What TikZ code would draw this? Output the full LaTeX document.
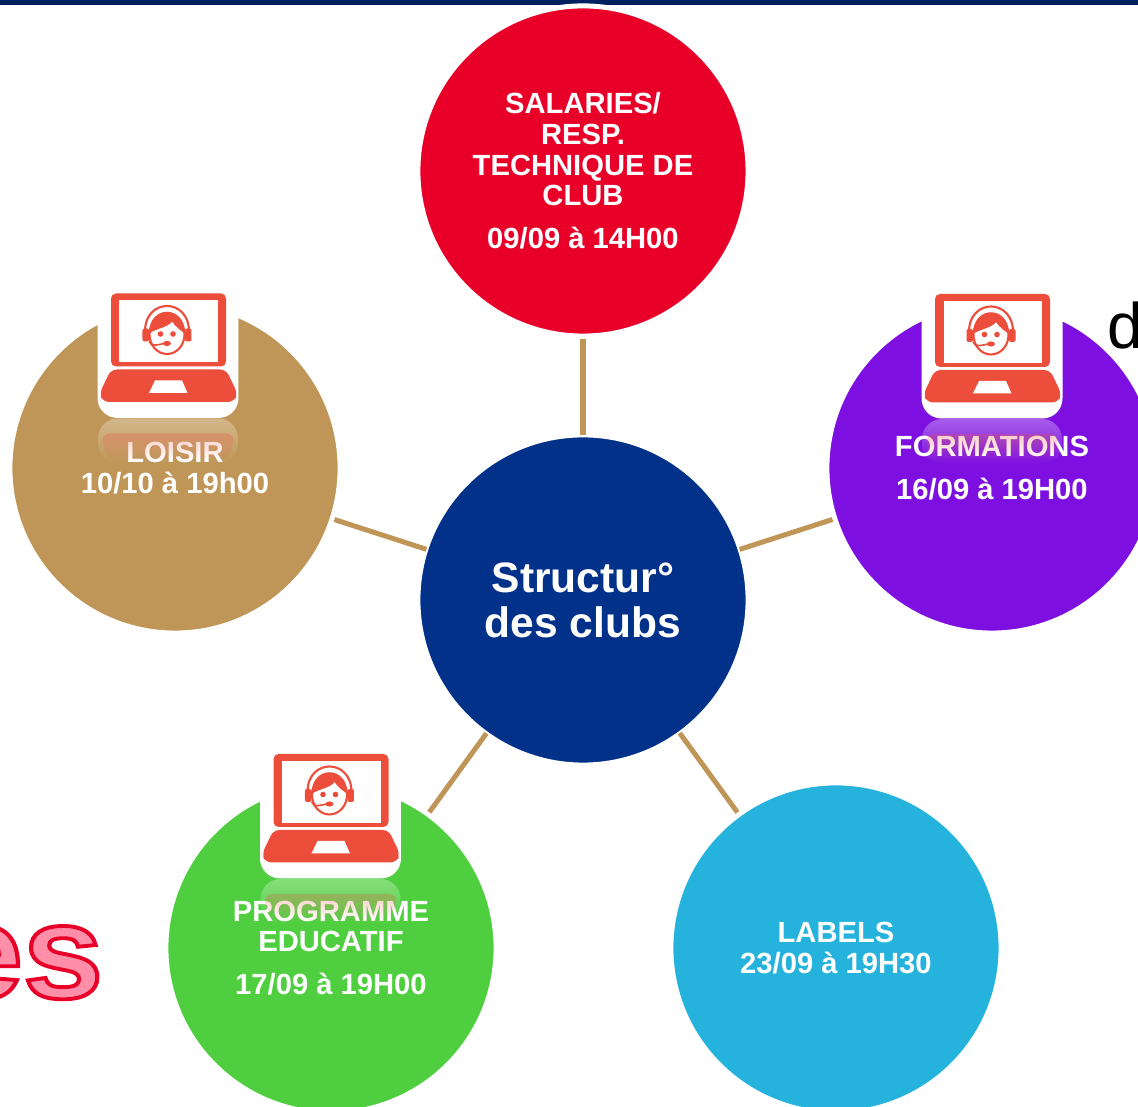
\documentclass[tikz,border=0pt]{standalone}
\usepackage{fontspec}
\setmainfont{Liberation Sans}
\usetikzlibrary{fadings}

\definecolor{barNavy}{HTML}{002060}
\definecolor{hubBlue}{HTML}{02318A}
\definecolor{spokeTan}{HTML}{BF9657}
\definecolor{clubRed}{HTML}{E80029}
\definecolor{clubPurple}{HTML}{7D10E0}
\definecolor{clubTan}{HTML}{BF9657}
\definecolor{clubGreen}{HTML}{4FCF40}
\definecolor{clubCyan}{HTML}{25B3DE}
\definecolor{iconRed}{HTML}{EC4E3B}

\tikzfading[name=iconFade, top color=transparent!68, bottom color=transparent!100]
\tikzfading[name=bandFade, top color=transparent!72, bottom color=transparent!100]

\tikzstyle{club}=[circle,inner sep=0mm,minimum size=33mm,draw=white,line width=0.5mm,text=white,align=center,font=\fontsize{8.3}{8.7}\selectfont\bfseries]
\tikzstyle{hub}=[club,fill=hubBlue,font=\fontsize{12.1}{12.8}\selectfont\bfseries]
\tikzstyle{spoke}=[spokeTan,line width=0.5mm]
\tikzset{laptop/.pic={
	% Spiegelung
	\fill[white, rounded corners=2mm, path fading=iconFade] (-70,71) rectangle (70,116);
	\fill[iconRed, rounded corners=1mm, path fading=bandFade] (-68,86) -- (68,86) -- (60,114) -- (-60,114) -- cycle;
	% Kachel
	\fill[white, rounded corners=2mm] (-70.5,-70.5) rectangle (70.5,70.5);
	% Bildschirm und Tastatur
	\fill[iconRed, rounded corners=0.5mm] (-57,-54) rectangle (58,19);
	\fill[white] (-48.5,-47) rectangle (50,15);
	\fill[iconRed, rounded corners=0.6mm] (-57,22) -- (58,22) -- (69.5,46) -- (66,54.5) -- (-65,54.5) -- (-68.5,46) -- cycle;
	\fill[white] (-13,33) -- (14,33) -- (19.5,45.5) -- (-19,45.5) -- cycle;
	% Kopf
	\draw[iconRed, line width=0.6pt] (-23,-16) .. controls (-23,-50) and (21,-50) .. (21,-16);
	\fill[iconRed, rounded corners=0.2mm] (-25.5,-19) rectangle (-19,-6);
	\fill[iconRed, rounded corners=0.2mm] (17,-19) rectangle (23.5,-6);
	\draw[iconRed, line width=0.6pt, fill=white] (-1,-13) ellipse (17.5 and 19.5);
	\fill[iconRed] (-19,-14) .. controls (-19,-43) and (17,-43) .. (17,-14) .. controls (13,-17) and (8,-20) .. (4,-26) .. controls (0,-20) and (-12,-19) .. (-19,-14) -- cycle;
	\fill[iconRed] (-7.5,-13.5) circle (2.8);
	\fill[iconRed] (5,-13.5) circle (2.8);
	\draw[iconRed, line width=0.45pt] (-19,-6) .. controls (-17,0) and (-9,-3) .. (-4,-4);
	\fill[iconRed] (-1,-4) ellipse (4 and 2.6);
}}

\begin{document}
\begin{tikzpicture}[x=0.01cm, y=-0.01cm]

	\useasboundingbox (0,0) rectangle (1138,1107);
	\clip (0,0) rectangle (1138,1107);

	\fill[barNavy] (0,0) rectangle (1138,5.5);

	% Texte am Rand
	\node(rest) at (104,998) [anchor=base east, inner sep=0mm, xscale=1.08, transform shape, font=\fontsize{38}{38}\selectfont\bfseries, text=clubRed] {\special{pdf:code q 2 Tr 1.1 w 0.91 0 0.16 RG 1 0.56 0.66 rg}es\special{pdf:code 0 Tr Q}};
	\node(cut) at (1107,349) [anchor=base west, inner sep=0mm, font=\fontsize{18.3}{18.3}\selectfont] {d};

	% Kreise
	\node(hub) at (583,600) [hub] {Structur°\\des clubs};
	\node(salaries) at (583,171) [club, fill=clubRed] {SALARIES/\\RESP.\\TECHNIQUE DE\\CLUB\\[3.5pt]09/09 à 14H00};
	\node(loisir) at (175,468) [club, fill=clubTan] {LOISIR\\10/10 à 19h00};
	\node(formations) at (992,468) [club, fill=clubPurple] {FORMATIONS\\[3.5pt]16/09 à 19H00};
	\node(educatif) at (331,948) [club, fill=clubGreen] {PROGRAMME\\EDUCATIF\\[3.5pt]17/09 à 19H00};
	\node(labels) at (836,948) [club, fill=clubCyan] {LABELS\\23/09 à 19H30};

	\draw[spoke, shorten <=-0.3mm] (hub) -- (salaries);
	\draw[spoke, shorten <=-0.3mm] (hub) -- (loisir);
	\draw[spoke, shorten <=-0.3mm] (hub) -- (formations);
	\draw[spoke, shorten <=-0.3mm] (hub) -- (educatif);
	\draw[spoke, shorten <=-0.3mm] (hub) -- (labels);

	% Symbole
	\pic at (168,347.5) {laptop};
	\pic at (992,348) {laptop};
	\pic at (330.5,808) {laptop};

\end{tikzpicture}
\end{document}
